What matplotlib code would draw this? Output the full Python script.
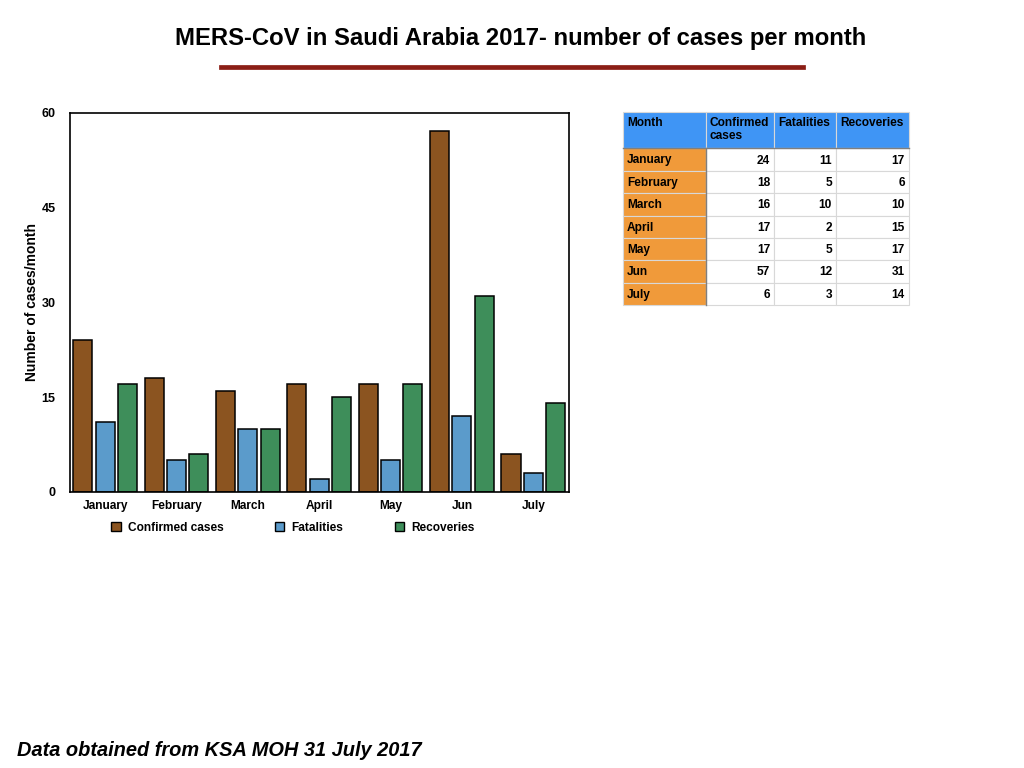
import numpy as np
import matplotlib
matplotlib.use("Agg")
import matplotlib.pyplot as plt
from matplotlib.patches import Rectangle, Patch
from matplotlib.lines import Line2D

plt.rcParams['font.family'] = ['Liberation Sans', 'DejaVu Sans']

months = ['January', 'February', 'March', 'April', 'May', 'Jun', 'July']
confirmed = [24, 18, 16, 17, 17, 57, 6]
fatalities = [11, 5, 10, 2, 5, 12, 3]
recoveries = [17, 6, 10, 15, 17, 31, 14]
series_names = ['Confirmed cases', 'Fatalities', 'Recoveries']
yticks = [0, 15, 30, 45, 60]
table_header = ['Month', 'Confirmed\ncases', 'Fatalities', 'Recoveries']

colors = ['#8B5420', '#5B9BCB', '#3E8E5A']
W, H = 1024, 768

fig = plt.figure(figsize=(10.24, 7.68), dpi=100)

def fx(px):
    return px / W

def fy(py):
    return 1 - py / H

# title + red rule
fig.text(fx(521), fy(39), 'MERS-CoV in Saudi Arabia 2017- number of cases per month',
         ha='center', va='center', fontsize=17.2, fontweight='bold')
fig.add_artist(Line2D([fx(221), fx(803)], [fy(67), fy(67)], color='#8B1E16', lw=3.4))

# bar chart
ax = fig.add_axes([fx(69.5), fy(492), fx(569) - fx(69.5), fy(112.5) - fy(492)])
x = np.arange(len(months))
step, bw = 0.313, 0.267
for i, vals in enumerate([confirmed, fatalities, recoveries]):
    ax.bar(x + (i - 1) * step, vals, width=bw, color=colors[i],
           edgecolor='black', linewidth=1.1, label=series_names[i])
ax.set_xlim(-0.5, len(months) - 0.5)
ax.set_ylim(0, 60)
ax.set_yticks(yticks)
ax.set_xticks(x)
ax.set_xticklabels(months)
ax.tick_params(length=0, labelsize=8.6)
ax.tick_params(axis='y', pad=10, labelsize=9)
ax.tick_params(axis='x', pad=6)
for lab in ax.get_xticklabels() + ax.get_yticklabels():
    lab.set_fontweight('bold')
for s in ax.spines.values():
    s.set_linewidth(1.2)
ax.set_ylabel('Number of cases/month', fontsize=10, fontweight='bold', labelpad=2)

# legend below the chart
handles = [Patch(facecolor=c, edgecolor='black', linewidth=1.0) for c in colors]
fig.legend(handles, series_names, loc='center left', bbox_to_anchor=(fx(111), fy(528)),
           ncol=3, frameon=False, handlelength=0.8, handleheight=0.8, handletextpad=0.6,
           columnspacing=4.3, borderaxespad=0, borderpad=0,
           prop={'weight': 'bold', 'size': 8.6})

# data table on the right
col_edges = [623, 705.5, 774, 836, 909]
row_edges = [112, 148, 171, 193, 216, 238, 260, 283, 305]
header_col = '#3F95F5'
month_col = '#F09A3A'
for r in range(len(row_edges) - 1):
    for c in range(len(col_edges) - 1):
        x0, x1 = col_edges[c], col_edges[c + 1]
        y0, y1 = row_edges[r], row_edges[r + 1]
        if r == 0:
            fc = header_col
        elif c == 0:
            fc = month_col
        else:
            fc = 'white'
        fig.add_artist(Rectangle((fx(x0), fy(y1)), fx(x1 - x0), y1 / H - y0 / H,
                                 facecolor=fc, edgecolor='#D8D8D8', linewidth=0.8))
# darker separators
fig.add_artist(Line2D([fx(col_edges[0]), fx(col_edges[-1])], [fy(148), fy(148)], color='#7F7F7F', lw=1.0))
fig.add_artist(Line2D([fx(705.5), fx(705.5)], [fy(148), fy(305)], color='#7F7F7F', lw=1.0))

for c, txt in enumerate(table_header):
    fig.text(fx(col_edges[c] + 4), fy(117.5), txt, ha='left', va='top',
             fontsize=8.6, fontweight='bold', linespacing=1.05)
cols = [confirmed, fatalities, recoveries]
for r, m in enumerate(months):
    yc = (row_edges[r + 1] + row_edges[r + 2]) / 2 + 1
    fig.text(fx(col_edges[0] + 4), fy(yc), m, ha='left', va='center',
             fontsize=8.6, fontweight='bold')
    for c, vals in enumerate(cols):
        fig.text(fx(col_edges[c + 2] - 4), fy(yc), str(vals[r]), ha='right', va='center',
                 fontsize=8.6, fontweight='bold')

# footer
fig.text(fx(17), fy(751), 'Data obtained from KSA MOH 31 July 2017', ha='left', va='center',
         fontsize=14.4, fontweight='bold', fontstyle='italic')

fig.savefig('out.png', dpi=100)
